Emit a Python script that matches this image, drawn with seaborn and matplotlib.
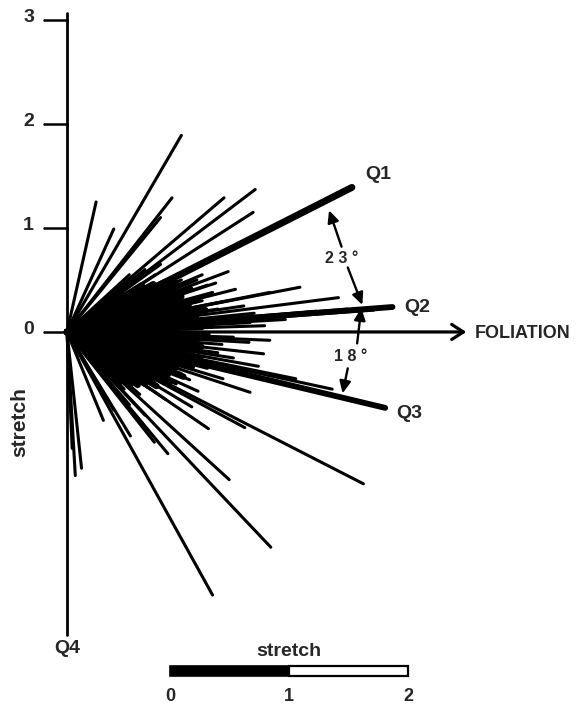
import numpy as np
import pandas as pd
import seaborn as sns
import matplotlib.pyplot as plt
from matplotlib.patches import Rectangle

sns.set_theme(style="white")
plt.rcParams["font.family"] = ["Liberation Sans", "DejaVu Sans"]
plt.rcParams["font.weight"] = "bold"

# === stretch vectors (end points, origin at 0,0; x along foliation) ===
# steep upper fan
upper_x = [1.10, 0.28, 0.45, 1.01, 1.51, 1.81, 1.79, 0.90]
upper_y = [1.89, 1.25, 0.99, 1.29, 1.29, 1.37, 1.15, 1.10]
# shorter vectors above the foliation
above_x = [1.55, 1.43, 1.62, 1.17, 2.24, 2.61, 1.95, 1.30, 1.25, 1.10,
           0.95, 1.20, 1.35, 1.40, 1.05, 1.30, 1.55, 1.70, 1.45, 1.80,
           1.60, 2.10, 1.90, 1.40, 1.76, 0.85, 0.75, 0.70, 0.90, 0.60,
           0.55, 1.00, 0.80, 2.40, 2.70, 2.95]
above_y = [0.58, 0.47, 0.41, 0.49, 0.43, 0.33, 0.38, 0.55, 0.50, 0.50,
           0.48, 0.42, 0.45, 0.38, 0.36, 0.30, 0.30, 0.25, 0.22, 0.18,
           0.14, 0.12, 0.06, 0.05, 0.09, 0.55, 0.60, 0.45, 0.65, 0.55,
           0.40, 0.20, 0.10, 0.20, 0.22, 0.21]
# vectors below the foliation
below_x = [1.95, 1.89, 1.84, 1.76, 1.60, 1.75, 1.30, 1.45, 1.60, 1.20,
           1.35, 1.10, 1.50, 1.05, 0.90, 0.80, 0.95, 0.70, 0.60, 0.75,
           0.55, 1.25, 1.00, 2.20, 2.55, 2.80, 1.49, 1.18, 1.26, 1.20,
           1.36, 1.71, 0.84, 0.97, 0.61, 1.56, 2.85, 1.96, 1.40, 0.14,
           0.08, 0.05, 0.45, 0.35]
below_y = [-0.08, -0.21, -0.33, -0.58, -0.05, -0.10, -0.15, -0.20, -0.25, -0.30,
           -0.35, -0.40, -0.45, -0.50, -0.45, -0.55, -0.65, -0.60, -0.70, -0.80,
           -0.55, -0.25, -0.10, -0.45, -0.55, -0.66, -0.12, -0.46, -0.57, -0.72,
           -0.93, -0.92, -1.06, -1.17, -1.00, -1.42, -1.46, -2.07, -2.53, -1.31,
           -1.38, -1.12, -0.75, -0.85]
# short, densely packed vectors forming the black core
core_x = [0.72, 0.83, 0.94, 1.05, 1.02, 1.18, 1.10, 1.26, 1.17, 1.33,
          1.24, 1.40, 1.30, 1.35, 1.25, 1.29, 1.19, 1.28, 1.12, 1.20,
          1.05, 1.12, 0.97, 0.99, 0.84, 0.86, 0.75, 0.68, 0.61, 0.50]
core_y = [0.45, 0.46, 0.48, 0.47, 0.41, 0.41, 0.34, 0.31, 0.25, 0.21,
          0.15, 0.10, 0.05, -0.02, -0.07, -0.14, -0.17, -0.25, -0.26, -0.34,
          -0.34, -0.43, -0.41, -0.48, -0.45, -0.52, -0.50, -0.51, -0.51, -0.49]

# principal stretch directions
q_names = ["Q1", "Q2", "Q3"]
q_x = [2.74, 3.13, 3.06]
q_y = [1.39, 0.24, -0.73]
q_width = [5.0, 4.2, 4.2]
q4_length = 2.91

axis_ticks = [0, 1, 2, 3]
scale_ticks = [0, 1, 2]
angle_labels = ["2 3 °", "1 8 °"]


def ray_table(xs, ys):
    return pd.DataFrame({
        "ray": np.repeat(np.arange(len(xs)), 2),
        "x": np.ravel([[0.0, v] for v in xs]),
        "y": np.ravel([[0.0, v] for v in ys]),
    })


rays = ray_table(upper_x + above_x + below_x, upper_y + above_y + below_y)
core = ray_table(core_x, core_y)

fig = plt.figure(figsize=(5.8, 7.05), dpi=100)
ax = fig.add_axes([0, 0, 1, 1])
ax.set_xlim(-0.644, 4.933)
ax.set_ylim(-3.587, 3.192)
ax.set_axis_off()

sns.lineplot(data=core, x="x", y="y", units="ray", estimator=None,
             sort=False, color="black", lw=4.6, ax=ax, legend=False)
sns.lineplot(data=rays, x="x", y="y", units="ray", estimator=None,
             sort=False, color="black", lw=2.2, ax=ax, legend=False)

for name, qx, qy, w in zip(q_names, q_x, q_y, q_width):
    q = pd.DataFrame({"x": [0.0, qx], "y": [0.0, qy]})
    sns.lineplot(data=q, x="x", y="y", estimator=None, sort=False,
                 color="black", lw=w, ax=ax, legend=False)

# vertical stretch axis with ticks (Q4 downwards)
ax.plot([0, 0], [-q4_length, 3.07], color="black", lw=2.0)
for t in axis_ticks:
    ax.plot([-0.22, 0], [t, t], color="black", lw=1.8)
    ax.text(-0.37, t + 0.02, str(t), ha="center", va="center", fontsize=14,
            fontweight="bold")

# foliation arrow
ax.annotate("", xy=(3.84, 0), xytext=(0, 0),
            arrowprops=dict(arrowstyle="->,head_length=0.7,head_width=0.45",
                            lw=2.3, color="black", shrinkA=0, shrinkB=0))
ax.text(3.92, -0.01, "FOLIATION", ha="left", va="center", fontsize=13,
        fontweight="bold")

# Q labels
ax.text(2.99, 1.51, "Q1", ha="center", va="center", fontsize=14, fontweight="bold")
ax.text(3.37, 0.24, "Q2", ha="center", va="center", fontsize=14, fontweight="bold")
ax.text(3.29, -0.78, "Q3", ha="center", va="center", fontsize=14, fontweight="bold")
ax.text(0.0, -3.04, "Q4", ha="center", va="center", fontsize=14, fontweight="bold")

# angle arrows
arr = dict(arrowstyle="-|>,head_length=0.6,head_width=0.28", lw=1.7,
           color="black", shrinkA=0, shrinkB=0)
ax.annotate("", xy=(2.52, 1.17), xytext=(2.64, 0.82), arrowprops=arr)
ax.annotate("", xy=(2.84, 0.26), xytext=(2.70, 0.62), arrowprops=arr)
ax.annotate("", xy=(2.83, 0.23), xytext=(2.79, -0.11), arrowprops=arr)
ax.annotate("", xy=(2.65, -0.59), xytext=(2.70, -0.35), arrowprops=arr)
ax.text(2.64, 0.71, angle_labels[0], ha="center", va="center", fontsize=11.5,
        fontweight="bold")
ax.text(2.73, -0.24, angle_labels[1], ha="center", va="center", fontsize=11.5,
        fontweight="bold")

# vertical axis title
ax.text(-0.45, -0.87, "stretch", rotation=90, ha="center", va="center",
        fontsize=15, fontweight="bold")

# scale bar
bar_x0, bar_unit, bar_y = 0.99, 1.144, -3.26
bar_h = 0.095
ax.add_patch(Rectangle((bar_x0, bar_y - bar_h / 2), bar_unit, bar_h,
                       facecolor="black", edgecolor="black", lw=1.2))
ax.add_patch(Rectangle((bar_x0 + bar_unit, bar_y - bar_h / 2), bar_unit, bar_h,
                       facecolor="white", edgecolor="black", lw=1.6))
for s in scale_ticks:
    ax.text(bar_x0 + s * bar_unit, -3.51, str(s), ha="center", va="center",
            fontsize=13, fontweight="bold")
ax.text(bar_x0 + bar_unit, -3.07, "stretch", ha="center", va="center",
        fontsize=14, fontweight="bold")

fig.savefig("out.png", dpi=100, facecolor="white")
